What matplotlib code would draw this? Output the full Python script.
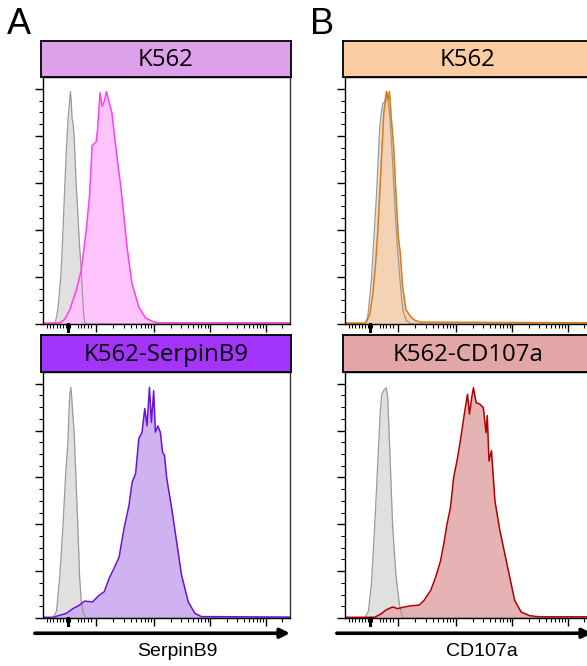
import numpy as np
import matplotlib
matplotlib.use("Agg")
import matplotlib.pyplot as plt

# x in display channels (0-1000, biexponential scale), y in % of max
a_top_ctrl_x = [0, 48, 55, 62, 71, 76, 81, 88, 95, 102, 108, 111, 114, 118, 121, 126, 128, 134, 141, 148, 155, 160, 164, 168, 176, 1000]
a_top_ctrl_y = [0, 0, 3, 8, 18.7, 28, 40, 58, 75, 88, 95, 98.8, 95, 87, 86, 80, 75, 60, 47, 33, 23, 12, 5, 1, 0, 0]

a_top_x = [0, 68, 88, 108, 135, 155, 175, 188, 199, 215, 221, 231, 239, 248, 257, 268, 279, 288, 301, 315, 328, 340, 360, 388, 415, 448, 468, 1000]
a_top_y = [0.4, 0.5, 2, 6, 14.5, 23, 40, 54, 75.9, 77.4, 82.9, 98.3, 92.5, 94.6, 98.8, 94.0, 89.8, 81.3, 69.8, 58.3, 45.5, 32.8, 17.4, 7.2, 2.6, 0.9, 0.5, 0.5]

a_bot_ctrl_x = [0, 41, 55, 68, 81, 92, 101, 105, 109, 113, 117, 121, 126, 131, 141, 148, 155, 163, 175, 1000]
a_bot_ctrl_y = [0, 0, 3, 18, 39.6, 62, 75, 88, 96, 98.4, 93, 86, 80, 66, 39.6, 18, 7, 2, 0, 0]

a_bot_x = [0, 41, 95, 121, 148, 168, 201, 228, 248, 268, 288, 308, 328, 348, 361, 375, 388, 401, 412, 421, 431, 439, 448, 455, 465, 475, 484, 492, 501, 521, 541, 561, 588, 615, 641, 1000]
a_bot_y = [0.3, 0.3, 2, 4, 5.5, 7.2, 6.9, 9.8, 11.2, 17, 21.3, 26, 38.2, 48, 58, 61.7, 76.6, 79.3, 89.4, 82, 98.4, 83.5, 97, 79.3, 82, 79.3, 70.8, 69.4, 59.6, 46.8, 32.5, 18.3, 6.9, 2, 0.6, 0.4]

b_top_ctrl_x = [0, 80, 92, 107, 116, 127, 140, 146, 153, 160, 167, 172, 180, 188, 196, 204, 212, 220, 228, 236, 248, 268, 1000]
b_top_ctrl_y = [0, 0, 3, 18.7, 35, 54, 82.6, 89, 94, 94, 98.8, 96, 90, 78, 62, 46, 33, 22, 12, 5, 1.5, 0, 0]

b_top_x = [0, 80, 87, 100, 113, 124, 133, 147, 157, 163, 169, 175, 180, 187, 197, 207, 216, 224, 233, 247, 267, 284, 307, 1000]
b_top_y = [0.4, 0.4, 1, 4, 13, 26, 40, 68.5, 89.8, 94, 98.8, 95.3, 98.8, 88, 75.4, 54, 37, 30, 16, 6, 3, 1.5, 0.8, 0.5]

b_bot_ctrl_x = [0, 80, 95, 107, 120, 133, 143, 149, 160, 167, 173, 183, 193, 207, 220, 233, 1000]
b_bot_ctrl_y = [0, 0, 3, 14.6, 38.7, 67, 88.5, 95.5, 97.6, 98.3, 94, 67, 38.7, 17.4, 6, 0, 0]

b_bot_x = [0, 13, 120, 147, 167, 193, 213, 240, 267, 300, 320, 347, 367, 387, 400, 413, 427, 440, 456, 469, 483, 496, 504, 513, 520, 531, 547, 560, 571, 576, 583, 593, 607, 627, 647, 667, 687, 713, 747, 787, 1000]
b_bot_y = [0.3, 0.3, 0.3, 1.8, 3.5, 4.7, 4, 4.7, 5.2, 5.5, 7.5, 11.8, 17.4, 24.5, 31.6, 40.1, 47.2, 60, 68.5, 77, 87, 95.5, 87, 94, 98.3, 91.9, 91.2, 89.8, 79.1, 86.4, 67, 71.4, 50, 37.3, 27.4, 17.4, 7.5, 2.6, 1, 0.5, 0.5]

titles = ["K562", "K562-SerpinB9", "K562", "K562-CD107a"]
header_colors = ["#dda0eb", "#a335fb", "#fbcba2", "#e2a6a6"]
fill_colors = ["#ffc4fb", "#cfb3f0", "#f4d3b4", "#e5b3b3"]
line_colors = ["#ff3ff0", "#6a12d6", "#dd7a12", "#b00000"]
x_labels = ["SerpinB9", "CD107a"]

zero_pos = 101
decades = [215, 448, 677, 901]
low_ticks = [15, 28, 41, 55, 68, 81, 94, 108, 141, 155, 168, 181, 195]

fig = plt.figure(figsize=(5.87, 6.66), dpi=100)

def draw_hist(ax, cx, cy, x, y, fill, line):
    ax.fill_between(cx, cy, color="#e0e0e0", lw=0)
    ax.plot(cx, cy, color="#9a9a9a", lw=0.9)
    ax.fill_between(x, y, color=fill, lw=0)
    ax.plot(x, y, color=line, lw=1.1)
    ax.set_xlim(0, 1000)
    ax.set_ylim(0, 105)
    ax.set_yticks([0, 20, 40, 60, 80, 100])
    ax.set_yticks(np.arange(0, 101, 5), minor=True)
    minor = list(low_ticks)
    for i, d in enumerate(decades):
        step = (decades[i + 1] - d) if i + 1 < len(decades) else 224
        for m in range(2, 10):
            p = d + np.log10(m) * step
            if p < 1000:
                minor.append(p)
    ax.set_xticks([zero_pos] + decades)
    ax.set_xticks(minor, minor=True)
    ax.tick_params(which="major", length=6, width=1, labelleft=False, labelbottom=False)
    ax.tick_params(which="minor", length=3, width=0.8)
    ax.axvline(zero_pos, ymin=-0.028, ymax=0, color="black", lw=2.2, clip_on=False)
    for s in ax.spines.values():
        s.set_linewidth(1)
    ax.spines["right"].set_color("#333333")

def header(rect, text, color):
    h = fig.add_axes(rect)
    h.set_facecolor(color)
    h.set_xticks([])
    h.set_yticks([])
    for s in h.spines.values():
        s.set_linewidth(1.3)
    h.text(0.5, 0.47, text, ha="center", va="center", fontsize=17.3,
           family="Open Sans", transform=h.transAxes)

lefts = [43 / 587, 345 / 587]
w = 247 / 587
datasets = [
    (a_top_ctrl_x, a_top_ctrl_y, a_top_x, a_top_y),
    (a_bot_ctrl_x, a_bot_ctrl_y, a_bot_x, a_bot_y),
    (b_top_ctrl_x, b_top_ctrl_y, b_top_x, b_top_y),
    (b_bot_ctrl_x, b_bot_ctrl_y, b_bot_x, b_bot_y),
]
k = 0
for col in range(2):
    l = lefts[col]
    for row in range(2):
        if row == 0:
            ax_rect = [l, 1 - 324 / 666, w, 247 / 666]
            h_rect = [l - 2 / 587, 1 - 77 / 666, w + 3 / 587, 36 / 666]
        else:
            ax_rect = [l, 1 - 618 / 666, w, 246 / 666]
            h_rect = [l - 2 / 587, 1 - 372 / 666, w + 3 / 587, 37 / 666]
        ax = fig.add_axes(ax_rect)
        cx, cy, x, y = datasets[k]
        draw_hist(ax, cx, cy, x, y, fill_colors[k], line_colors[k])
        header(h_rect, titles[k], header_colors[k])
        if row == 1:
            ax.annotate("", xy=(1.0, -0.062), xytext=(-0.033, -0.062),
                        xycoords="axes fraction",
                        arrowprops=dict(arrowstyle="-|>", lw=2.6, color="black",
                                        mutation_scale=14, shrinkA=0, shrinkB=0))
        k += 1

fig.text(177 / 587, 1 - 651 / 666, x_labels[0], ha="center", va="center",
         fontsize=14, family="Liberation Sans")
fig.text(482 / 587, 1 - 651 / 666, x_labels[1], ha="center", va="center",
         fontsize=14, family="Liberation Sans")
fig.text(7 / 587, 1 - 24 / 666, "A", ha="left", va="center", fontsize=26, family="Liberation Sans")
fig.text(310 / 587, 1 - 24 / 666, "B", ha="left", va="center", fontsize=26, family="Liberation Sans")

fig.savefig("out.png", dpi=100)
